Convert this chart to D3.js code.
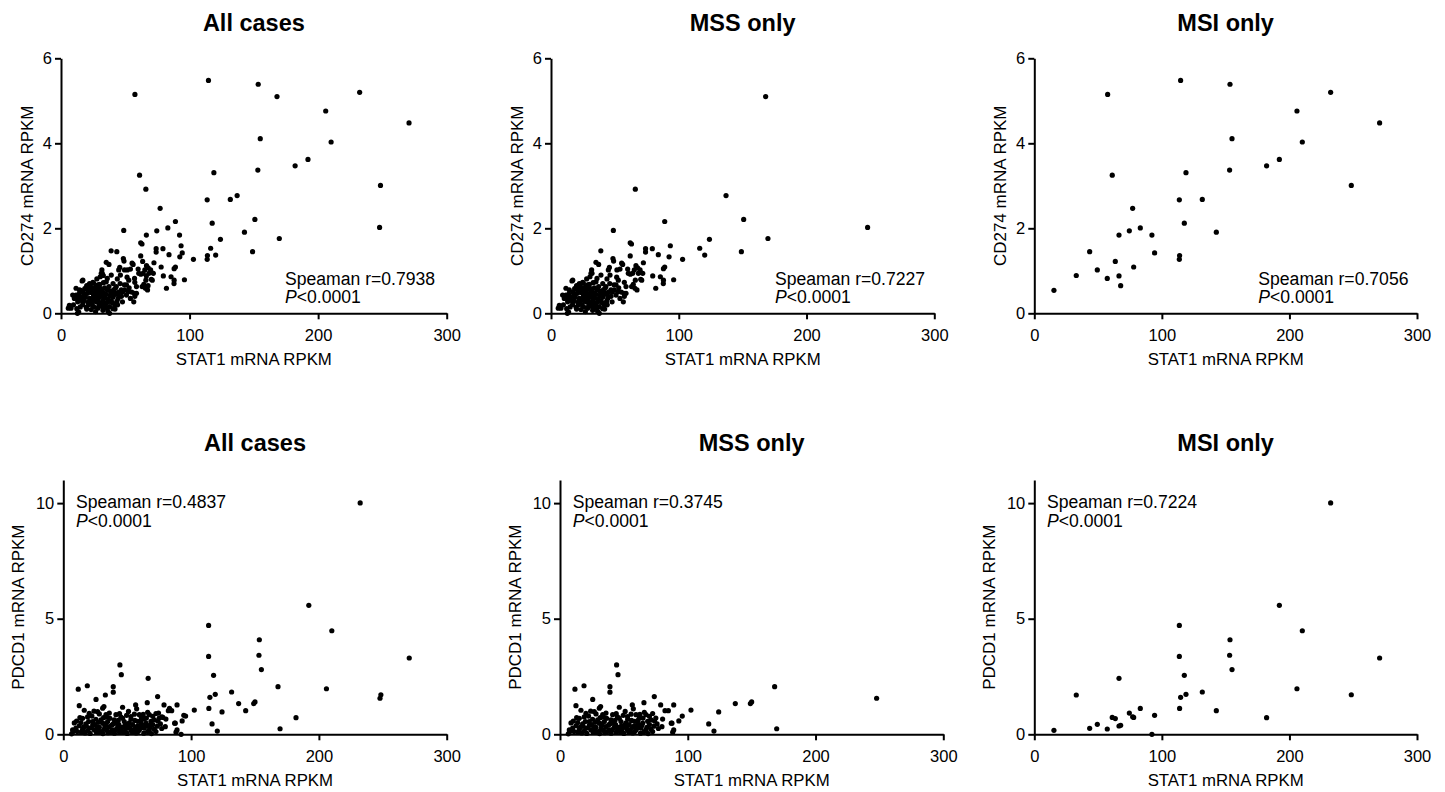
<!DOCTYPE html>
<html>
<head>
<meta charset="utf-8">
<script src="https://cdn.jsdelivr.net/npm/d3@7"></script>
<style>
  html, body { margin: 0; padding: 0; background: #fff; }
  svg { display: block; font-family: "Liberation Sans", Arial, sans-serif; }
</style>
</head>
<body>
<svg id="chart" width="1445" height="792"></svg>
<script>
// ---------------- DATA ----------------
const panelTitles = ["All cases", "MSS only", "MSI only"];
const xLabel = "STAT1 mRNA RPKM";
const yLabelsRow = ["CD274 mRNA RPKM", "PDCD1 mRNA RPKM"];
const xTicks = [0, 100, 200, 300];
const yTicksCD274 = [0, 2, 4, 6];
const yTicksPDCD1 = [0, 5, 10];
const statsCD274 = ["0.7938", "0.7227", "0.7056"];
const statsPDCD1 = ["0.4837", "0.3745", "0.7224"];
const pText = "<0.0001";

// MSI: [STAT1, CD274]
const msiCD274 = [
  [15.4,0.54],[32.9,0.89],[43.4,1.45],[49.4,1.02],[57.5,5.15],[57.2,0.82],[61.1,3.25],
  [63.5,1.22],[66.4,1.84],[66.4,0.88],[67.7,0.65],[74.5,1.94],[77.1,2.47],[77.9,1.09],
  [83.1,2.01],[92.2,1.84],[94.3,1.42],[113.7,2.67],[113.9,1.36],[113.7,1.27],[114.7,5.48],
  [117.6,2.12],[118.9,3.31],[131.7,2.68],[142.7,1.91],[153.1,3.37],[153.4,5.39],[155.0,4.11],
  [182.1,3.47],[192.1,3.62],[205.9,4.76],[210.1,4.03],[232.3,5.20],[248.5,3.01],[270.7,4.48]
];
// MSI: [STAT1, PDCD1]
const msiPDCD1 = [
  [15.4,0.17],[32.9,1.70],[43.4,0.26],[49.4,0.43],[57.2,0.23],[61.1,0.73],[63.5,0.68],
  [66.4,2.42],[66.4,0.36],[67.7,0.39],[74.5,0.92],[77.1,0.76],[77.9,0.73],[83.1,1.12],
  [92.2,0.0],[94.3,0.82],[113.7,4.71],[113.7,3.37],[113.9,1.12],[114.7,1.60],[117.6,2.55],
  [118.9,1.73],[131.7,1.83],[142.7,1.02],[153.1,3.42],[153.4,4.09],[155.0,2.80],[182.1,0.72],
  [192.1,5.58],[205.9,1.97],[210.1,4.48],[232.3,10.01],[248.5,1.71],[270.7,3.30]
];
// MSS: [STAT1, CD274]
const mssCD274 = [
  [168,5.10],[66,2.92],[137,2.77],[150.8,2.21],[89,2.16],[247.8,2.02],[48.8,1.95],[169.8,1.76],
  [124,1.74],[116.4,1.53],[120.3,1.37],[149,1.45],[103,1.27],[93.4,1.59],[92.4,1.33],[96,0.79],
  [88,0.78],[82,0.59],[79.6,0.88],[85.6,0.86],[88,1.05],[89,1.09],[79.3,1.52],[74,1.52],[74,1.44],
  [84,1.38],[72.3,1.19],[62,1.66],[63,1.63],[62,1.35],[39,1.47],[48.5,1.29],[87.9,0.70],
  [35.2,1.2],[37.3,1.15],[49,1.23],[56.1,1.15],[60,1.04],[66.5,1.12],[67.8,1.07],[65.2,1.02],
  [70.4,0.96],[63.9,0.94],[62.1,0.92],[51.6,1.02],[54,1.04],[45.7,1.08],[32.1,0.94],[30.5,0.86],
  [39.1,0.9],[43.8,0.81],[51.4,0.85],[66,0.78],[64.4,0.68],[57.4,0.73],[58.7,0.63],[50.9,0.67],
  [58.7,0.47],[57.4,0.4],[56.6,0.27],[16.4,0.76],[22.2,0.7],[24.8,0.73],[28.7,0.67],[35.2,0.74],
  [37.3,0.63],[43,0.63],[46.9,0.55],[11.7,0.59],[14.3,0.55],[19.6,0.6],[23.5,0.49],[26.9,0.55],
  [31.3,0.52],[39.1,0.49],[42.5,0.47],[50.9,0.43],[52.2,0.51],[9.1,0.43],[10.4,0.35],[15.7,0.39],
  [18.3,0.44],[22.2,0.35],[25.3,0.41],[29.5,0.37],[32.6,0.31],[36.5,0.33],[40.4,0.38],[44.4,0.35],
  [47.8,0.27],[13,0.27],[16.9,0.21],[20.9,0.26],[24.3,0.2],[27.4,0.27],[31.3,0.2],[35.2,0.23],
  [37.8,0.16],[41.7,0.21],[6.5,0.19],[7.8,0.12],[12.3,0.11],[13.8,0.03],[19.6,0.14],[23.5,0.09],
  [28.7,0.12],[32.6,0.07],[36.5,0.05],[37.8,0.0],[26.9,0.04],[32.6,0.5],[33.9,0.6],[27.9,0.81],
  [5.7,0.12],[9.7,0.2],[12.8,0.0],[11.7,0.43],[13,0.35],[17,0.78],[20.6,0.47],[22.7,0.67],
  [25.3,0.71],[27.9,0.39],[30.5,0.59],[31.3,0.94],[31.8,1.02],[40.4,0.11],[42.3,0.59],[44.9,1.02],
  [46.2,0.9],[49.3,0.67],[52.7,0.78],[55.3,1.18],[57.1,0.47],[60.5,0.94],[63.1,0.63],[65.7,0.59],
  [68.4,0.94],[69.7,1.02],[71,0.78],[67.3,0.55],[71.8,0.94],[70.2,0.80],
  [18,0.3],[21,0.52],[24,0.6],[26,0.3],[29,0.45],[30,0.25],[33,0.4],[34,0.15],[38,0.42],[41,0.55],
  [44,0.45],[46,0.7],[20,0.1],[15,0.15],[17,0.5],[28,0.55],[35,0.45],[39,0.3],[42,0.1],[48,0.5],
  [53,0.6],[55,0.5],[54,0.35],
  [19,0.38],[21.5,0.2],[23,0.28],[25.5,0.15],[26.5,0.46],[29.5,0.18],[31,0.42],[33.5,0.25],
  [34.5,0.36],[36,0.55],[37,0.28],[38.5,0.52],[40,0.25],[41.5,0.44],[43.5,0.28],[45,0.5],
  [16,0.3],[14,0.45],[18.5,0.58],[20,0.65],[27,0.62],[30,0.68],[33,0.72],[36,0.82],[40.5,0.7],
  [24,0.5],[28.5,0.3],[22,0.58],[32,0.16],[25,0.33],[35.5,0.12],[44,0.2],[47,0.4],[49.5,0.55]
];
// MSS: [STAT1, PDCD1]
const mssPDCD1 = [
  [44.3,3.0],[45.4,2.58],[18.8,2.10],[11.7,1.95],[39.1,2.06],[39.1,1.82],[25.6,1.51],[12.5,1.24],
  [73.8,1.63],[65.7,1.37],[56.6,1.27],[78.8,1.27],[89,1.27],[31.8,1.2],[46.4,1.17],[102.5,1.05],
  [95.7,0.79],[93,0.58],[87.1,0.48],[89,0.19],[88.2,0.09],[79.8,0.33],[82.2,1.02],[84.8,1.02],
  [116.4,0.45],[120.5,0.14],[124.2,0.97],[137.2,1.33],[149,1.33],[150,1.40],[168,2.06],[169.6,0.24],
  [247.8,1.56],[7.8,0.12],[6.5,0.02],
  [7.3,0.19],[8.6,0.49],[10.4,0.57],[15.1,0.69],[16.4,1.04],[20.3,0.91],[22.4,0.79],[26.8,0.98],
  [28.2,0.88],[30.8,1.13],[33.4,0.85],[36,0.92],[41.2,0.85],[51,0.99],[52.9,0.77],[55.6,0.87],
  [57.4,1.1],[59.5,0.85],[62.1,0.71],[66,0.95],[67.3,0.85],[70,0.78],[72.5,0.9],[68.6,0.56],
  [71.2,0.62],[64.7,0.48],[58.2,0.56],[60.8,0.45],[51.6,0.5],[54.2,0.42],[46.4,0.69],[47.7,0.55],
  [39.9,0.62],[41.2,0.48],[34.7,0.55],[36.5,0.69],[29.5,0.62],[30.8,0.48],[22.9,0.55],[25.5,0.65],
  [17.7,0.45],[19.8,0.55],[12.5,0.37],[13.8,0.51],[9.9,0.27],[15.1,0.22],[20.3,0.27],[24.3,0.19],
  [28.2,0.3],[32.1,0.22],[36,0.33],[38.6,0.19],[42.5,0.3],[45.1,0.19],[49,0.27],[52.9,0.17],
  [56.8,0.3],[59.5,0.19],[63.4,0.27],[67.3,0.19],[71.2,0.22],[72.5,0.12],[87.6,0.48],[80.3,0.66],
  [17,0.06],[21,0.04],[26,0.08],[31,0.03],[35,0.07],[40,0.05],[44,0.08],[50,0.04],[57,0.06],
  [63,0.05],[69,0.03],[14,0.1],[28,0.12],[47,0.11],[54,0.09],
  [18,0.35],[23,0.4],[27,0.2],[33,0.45],[38,0.4],[43,0.6],[48,0.35],[53,0.65],[61,0.6],[65,0.7],
  [24,1.0],[34,0.75],[44,0.9],[75,0.7],[76,0.45],[58,0.35],[62,0.4],
  [11,0.12],[16,0.32],[19,0.15],[22,0.28],[25,0.42],[26.5,0.3],[30,0.12],[32.5,0.36],[34,0.18],
  [37,0.12],[39,0.45],[41,0.2],[43.5,0.42],[46,0.3],[48.5,0.14],[50.5,0.4],[52,0.28],[55,0.2],
  [56,0.6],[58.5,0.12],[61,0.28],[64,0.38],[66,0.12],[68,0.3],[70,0.42],[73.5,0.35],[74,0.58],
  [77,0.25],[27.5,0.52],[31.5,0.72],[45,0.75],[49.5,0.82],[62.5,0.86],[19,0.75],[13,0.72]
];

// All cases = MSS + MSI
const allCD274 = mssCD274.concat(msiCD274);
const allPDCD1 = mssPDCD1.concat(msiPDCD1);

// ---------------- LAYOUT ----------------
const rows = [
  { yLabel: yLabelsRow[0], yMax: 6, yTicks: yTicksCD274, top: 58.3, bottom: 313.3,
    titleY: 31, ylabOff: -28, stats: statsCD274, annDX: 224, annY1: 284.5, annY2: 303,
    lefts: [61, 551, 1034.3], widths: [385.7, 383.3, 382.7],
    data: [allCD274, mssCD274, msiCD274] },
  { yLabel: yLabelsRow[1], yMax: 11, yTicks: yTicksPDCD1, top: 480, bottom: 734.3,
    titleY: 450.7, ylabOff: -39, stats: statsPDCD1, annDX: 12.7, annY1: 507.7, annY2: 527.3,
    lefts: [63.3, 560, 1034.3], widths: [383.4, 383.3, 382.7],
    data: [allPDCD1, mssPDCD1, msiPDCD1] }
];

const svg = d3.select("#chart");
const fmt = d3.format("d");

rows.forEach(row => {
  row.lefts.forEach((left, i) => {
    const x = d3.scaleLinear().domain([0, 300]).range([left, left + row.widths[i]]);
    const y = d3.scaleLinear().domain([0, row.yMax]).range([row.bottom, row.top]);
    const g = svg.append("g");

    // title
    g.append("text")
      .attr("x", left + row.widths[i] / 2).attr("y", row.titleY)
      .attr("text-anchor", "middle")
      .attr("font-size", 23.5).attr("font-weight", "bold")
      .text(panelTitles[i]);

    // x axis
    const xa = g.append("g").attr("transform", `translate(0,${row.bottom})`)
      .call(d3.axisBottom(x).tickValues(xTicks).tickFormat(fmt).tickSize(6).tickPadding(10).tickSizeOuter(0));
    // y axis
    const ya = g.append("g").attr("transform", `translate(${left},0)`)
      .call(d3.axisLeft(y).tickValues(row.yTicks).tickFormat(fmt).tickSize(6).tickPadding(3).tickSizeOuter(0));
    [xa, ya].forEach(a => {
      a.select(".domain").attr("stroke", "#000").attr("stroke-width", 2);
      a.selectAll(".tick line").attr("stroke", "#000").attr("stroke-width", 2);
      a.selectAll(".tick text").attr("fill", "#000").attr("font-size", 16.5)
        .attr("font-family", "Liberation Sans, Arial, sans-serif");
    });

    // axis labels
    g.append("text")
      .attr("x", left + row.widths[i] / 2).attr("y", row.bottom + 52)
      .attr("text-anchor", "middle").attr("font-size", 16.8)
      .text(xLabel);
    g.append("text")
      .attr("transform", `translate(${left + row.ylabOff},${(row.top + row.bottom) / 2}) rotate(-90)`)
      .attr("text-anchor", "middle").attr("font-size", 17)
      .text(row.yLabel);

    // points
    g.append("g").selectAll("circle").data(row.data[i]).join("circle")
      .attr("cx", d => x(d[0])).attr("cy", d => y(d[1]))
      .attr("r", 2.6).attr("fill", "#000");

    // annotation
    const ax = left + row.annDX;
    g.append("text").attr("x", ax).attr("y", row.annY1).attr("font-size", 17.6)
      .text("Speaman r=" + row.stats[i]);
    const t2 = g.append("text").attr("x", ax).attr("y", row.annY2).attr("font-size", 17.6);
    t2.append("tspan").attr("font-style", "italic").text("P");
    t2.append("tspan").text(pText);
  });
});
</script>
</body>
</html>
